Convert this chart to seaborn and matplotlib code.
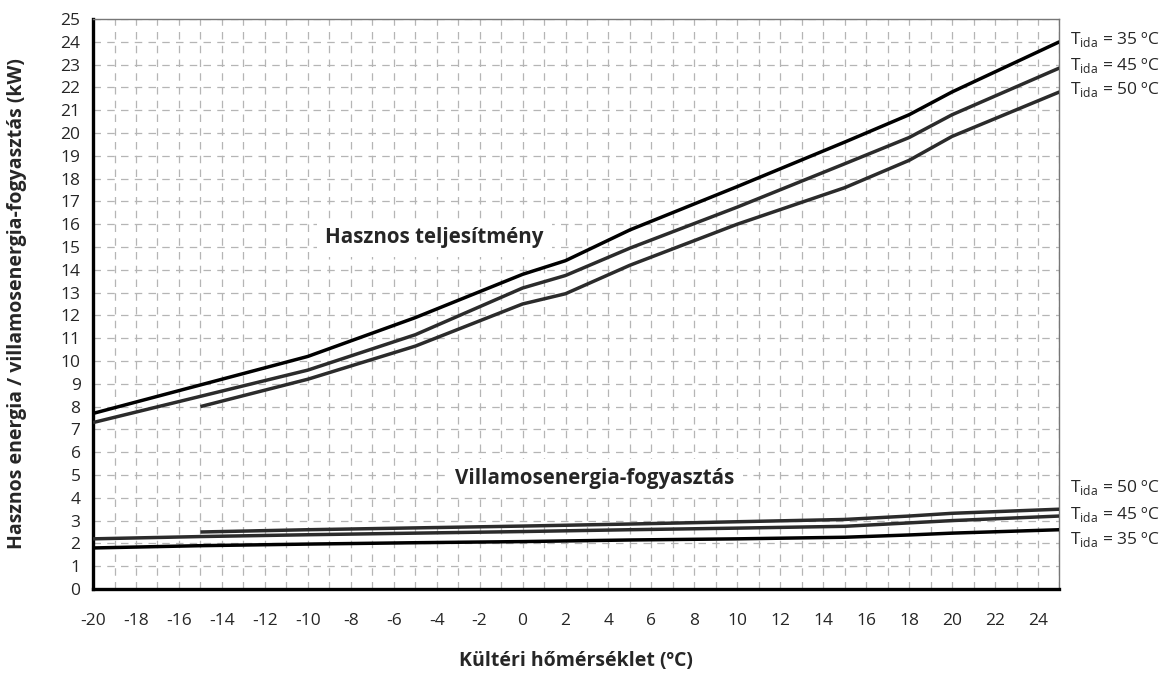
import numpy as np
import pandas as pd
import matplotlib
matplotlib.use("Agg")
import matplotlib.pyplot as plt
import seaborn as sns

# outdoor temperature points (degC)
x_top = [-20, -15, -10, -5, 0, 2, 5, 10, 15, 18, 20, 25]
x_low = [-20, -15, -10, -5, 0, 5, 10, 15, 18, 20, 25]

# useful heating output (kW)
top_35 = [7.7, 8.95, 10.2, 11.9, 13.8, 14.4, 15.75, 17.65, 19.6, 20.8, 21.8, 24.0]
top_45 = [7.3, 8.45, 9.6, 11.15, 13.2, 13.75, 14.95, 16.75, 18.65, 19.8, 20.8, 22.85]
top_50 = [np.nan, 8.0, 9.2, 10.65, 12.5, 12.95, 14.2, 16.0, 17.6, 18.8, 19.85, 21.8]

# electrical consumption (kW)
low_35 = [1.8, 1.9, 1.97, 2.03, 2.08, 2.15, 2.2, 2.27, 2.37, 2.45, 2.6]
low_45 = [2.2, 2.3, 2.38, 2.45, 2.52, 2.6, 2.67, 2.75, 2.9, 3.0, 3.2]
low_50 = [np.nan, 2.5, 2.6, 2.68, 2.76, 2.85, 2.95, 3.05, 3.2, 3.32, 3.5]

x_ticks = list(range(-20, 25, 2))
y_ticks = list(range(0, 26))

labels_top = ["35", "45", "50"]
labels_low = ["50", "45", "35"]

sns.set_style("white")
plt.rcParams["font.family"] = ["Open Sans", "DejaVu Sans"]
plt.rcParams["mathtext.fontset"] = "custom"
plt.rcParams["mathtext.rm"] = "Open Sans"
plt.rcParams["axes.unicode_minus"] = False

fig = plt.figure(figsize=(11.69, 6.75), dpi=100)
ax = fig.add_axes([0.0796, 0.1274, 0.8267, 0.8445])

series = [
    (x_top, top_35, "#000000"),
    (x_top, top_45, "#2b2b2b"),
    (x_top, top_50, "#2b2b2b"),
    (x_low, low_35, "#000000"),
    (x_low, low_45, "#2b2b2b"),
    (x_low, low_50, "#2b2b2b"),
]
for xs, ys, col in series:
    df = pd.DataFrame({"x": xs, "y": ys}).dropna()
    sns.lineplot(data=df, x="x", y="y", color=col, lw=2.5, ax=ax,
                 zorder=5, solid_capstyle="butt")

ax.set_xlim(-20, 25)
ax.set_ylim(0, 25)
ax.set_xticks(x_ticks)
ax.set_xticks(range(-20, 26), minor=True)
ax.set_yticks(y_ticks)
ax.grid(which="both", axis="x", color="#b5b5b5", ls=(0, (6, 5)), lw=0.9)
ax.grid(which="major", axis="y", color="#b5b5b5", ls=(0, (6, 5)), lw=0.9)
ax.tick_params(axis="x", which="minor", length=0)
ax.tick_params(axis="both", which="major", direction="out", width=2.2,
               color="black", labelsize=12.5)
ax.tick_params(axis="x", which="major", length=6, pad=11)
ax.tick_params(axis="y", which="major", length=5, pad=4)

for s in ["left", "bottom"]:
    ax.spines[s].set_linewidth(2.4)
    ax.spines[s].set_color("black")
for s in ["top", "right"]:
    ax.spines[s].set_linewidth(1.0)
    ax.spines[s].set_color("#777777")

ax.set_xlabel("Kültéri hőmérséklet (ºC)", fontsize=14, fontweight="bold", labelpad=16)
ax.set_ylabel("Hasznos energia / villamosenergia-fogyasztás (kW)", fontsize=14,
              fontweight="bold", labelpad=24)

box = dict(facecolor="white", edgecolor="none", pad=6)
ax.text(-4.1, 15.4, "Hasznos teljesítmény", fontsize=14.8, fontweight="bold",
        ha="center", va="center", bbox=box, zorder=4)
ax.text(3.35, 4.85, "Villamosenergia-fogyasztás", fontsize=14.8, fontweight="bold",
        ha="center", va="center", bbox=box, zorder=4)

for lab, yy in zip(labels_top, [24.08, 22.98, 21.9]):
    ax.text(25.5, yy, r"T$_{\mathrm{ida}}$ = " + lab + " ºC", fontsize=12.5,
            ha="left", va="center", clip_on=False)
for lab, yy in zip(labels_low, [4.43, 3.25, 2.15]):
    ax.text(25.5, yy, r"T$_{\mathrm{ida}}$ = " + lab + " ºC", fontsize=12.5,
            ha="left", va="center", clip_on=False)

fig.savefig("out.png", dpi=100)
